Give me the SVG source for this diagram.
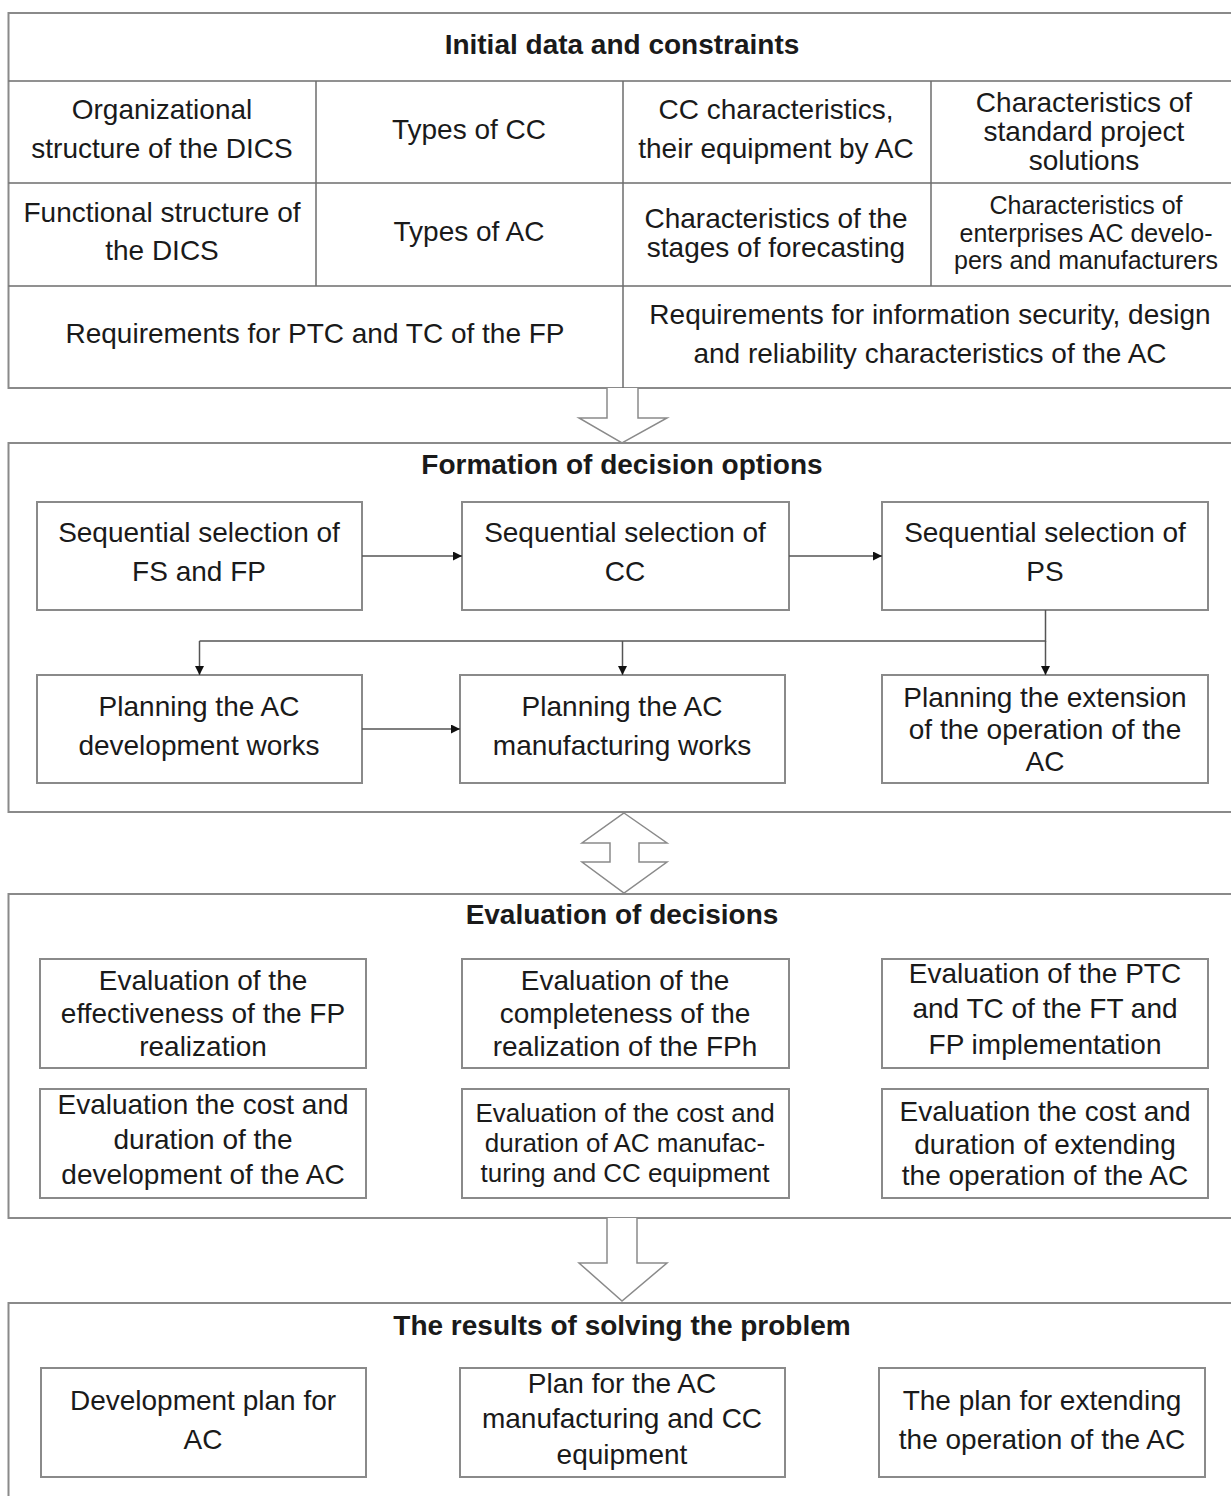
<svg xmlns="http://www.w3.org/2000/svg" width="1231" height="1496" viewBox="0 0 1231 1496">
<style>
text{font-family:"Liberation Sans",Arial,sans-serif;font-size:28px;fill:#1a1a1a;text-anchor:middle}
.t{font-weight:bold}
.s{font-size:26px}
.xs{font-size:25px}
.frame{fill:#fff;stroke:#8a8a8a;stroke-width:2}
.grid{fill:none;stroke:#6e6e6e;stroke-width:1.5}
.box{fill:#fff;stroke:#8a8a8a;stroke-width:2}
.hollow{fill:#fff;stroke:#8a8a8a;stroke-width:1.5;stroke-linejoin:miter}
.conn{fill:none;stroke:#555;stroke-width:1.5}
</style>
<defs>
<marker id="ah" viewBox="0 0 10 10" refX="10" refY="5" markerWidth="9" markerHeight="9" markerUnits="userSpaceOnUse" orient="auto">
<path d="M0,0L10,5L0,10z" fill="#111"/>
</marker>
</defs>
<rect width="1231" height="1496" fill="#fff"/>

<!-- Section 1: table -->
<g id="initial-data">
<rect class="frame" x="8.5" y="13" width="1232" height="375"/>
<path class="grid" d="M8.5,81H1240M8.5,183H1240M8.5,286H1240M316,81V286M623,81V388M931,81V286"/>
<text class="t" x="622" y="54">Initial data and constraints</text>
</g>
<g id="cell-org"><text x="162" y="119">Organizational</text><text x="162" y="158">structure of the DICS</text></g>
<g id="cell-types-cc"><text x="469" y="139">Types of CC</text></g>
<g id="cell-cc-char"><text x="776" y="119">CC characteristics,</text><text x="776" y="158">their equipment by AC</text></g>
<g id="cell-std"><text x="1084" y="112">Characteristics of</text><text x="1084" y="141">standard project</text><text x="1084" y="170">solutions</text></g>
<g id="cell-func"><text x="162" y="222">Functional structure of</text><text x="162" y="260">the DICS</text></g>
<g id="cell-types-ac"><text x="469" y="241">Types of AC</text></g>
<g id="cell-stages"><text x="776" y="228">Characteristics of the</text><text x="776" y="257">stages of forecasting</text></g>
<g id="cell-enterprises"><text class="xs" x="1086" y="214">Characteristics of</text><text class="xs" x="1086" y="241.5">enterprises AC develo-</text><text class="xs" x="1086" y="269">pers and manufacturers</text></g>
<g id="cell-req-ptc"><text x="315" y="343">Requirements for PTC and TC of the FP</text></g>
<g id="cell-req-sec"><text x="930" y="324">Requirements for information security, design</text><text x="930" y="363">and reliability characteristics of the AC</text></g>

<!-- Section 2 -->
<g id="formation">
<rect class="frame" x="8.5" y="443" width="1232" height="369"/>
<text class="t" x="622" y="474">Formation of decision options</text>
</g>
<g id="sel-fs"><rect class="box" x="37" y="502" width="325" height="108"/><text x="199" y="542">Sequential selection of</text><text x="199" y="581">FS and FP</text></g>
<g id="sel-cc"><rect class="box" x="462" y="502" width="327" height="108"/><text x="625" y="542">Sequential selection of</text><text x="625" y="581">CC</text></g>
<g id="sel-ps"><rect class="box" x="882" y="502" width="326" height="108"/><text x="1045" y="542">Sequential selection of</text><text x="1045" y="581">PS</text></g>
<g id="plan-dev"><rect class="box" x="37" y="675" width="325" height="108"/><text x="199" y="716">Planning the AC</text><text x="199" y="755">development works</text></g>
<g id="plan-man"><rect class="box" x="460" y="675" width="325" height="108"/><text x="622" y="716">Planning the AC</text><text x="622" y="755">manufacturing works</text></g>
<g id="plan-ext"><rect class="box" x="882" y="675" width="326" height="108"/><text x="1045" y="707">Planning the extension</text><text x="1045" y="739">of the operation of the</text><text x="1045" y="771">AC</text></g>

<!-- Section 3 -->
<g id="evaluation">
<rect class="frame" x="8.5" y="894" width="1232" height="324"/>
<text class="t" x="622" y="924">Evaluation of decisions</text>
</g>
<g id="ev-eff"><rect class="box" x="40" y="959" width="326" height="109"/><text x="203" y="990">Evaluation of the</text><text x="203" y="1023">effectiveness of the FP</text><text x="203" y="1056">realization</text></g>
<g id="ev-compl"><rect class="box" x="462" y="959" width="327" height="109"/><text x="625" y="990">Evaluation of the</text><text x="625" y="1023">completeness of the</text><text x="625" y="1056">realization of the FPh</text></g>
<g id="ev-ptc"><rect class="box" x="882" y="959" width="326" height="109"/><text x="1045" y="983">Evaluation of the PTC</text><text x="1045" y="1018">and TC of the FT and</text><text x="1045" y="1054">FP implementation</text></g>
<g id="ev-cost-dev"><rect class="box" x="40" y="1089" width="326" height="109"/><text x="203" y="1114">Evaluation the cost and</text><text x="203" y="1149">duration of the</text><text x="203" y="1184">development of the AC</text></g>
<g id="ev-cost-man"><rect class="box" x="462" y="1089" width="327" height="109"/><text class="s" x="625" y="1122">Evaluation of the cost and</text><text class="s" x="625" y="1152">duration of AC manufac-</text><text class="s" x="625" y="1182">turing and CC equipment</text></g>
<g id="ev-cost-ext"><rect class="box" x="882" y="1089" width="326" height="109"/><text x="1045" y="1121">Evaluation the cost and</text><text x="1045" y="1154">duration of extending</text><text x="1045" y="1185">the operation of the AC</text></g>

<!-- Section 4 -->
<g id="results">
<rect class="frame" x="8.5" y="1303" width="1232" height="220"/>
<text class="t" x="622" y="1335">The results of solving the problem</text>
</g>
<g id="res-dev"><rect class="box" x="41" y="1368" width="325" height="109"/><text x="203" y="1410">Development plan for</text><text x="203" y="1449">AC</text></g>
<g id="res-man"><rect class="box" x="460" y="1368" width="325" height="109"/><text x="622" y="1393">Plan for the AC</text><text x="622" y="1428">manufacturing and CC</text><text x="622" y="1464">equipment</text></g>
<g id="res-ext"><rect class="box" x="879" y="1368" width="326" height="109"/><text x="1042" y="1410">The plan for extending</text><text x="1042" y="1449">the operation of the AC</text></g>

<!-- Connectors -->
<g id="connectors">
<path class="hollow" d="M607,388V418H579L622,443L667,418H638V388"/>
<path class="hollow" d="M624,813L667,843H639V862H667L624,893L582,862H610V843H582Z"/>
<path class="hollow" d="M607,1218V1263H579L622,1301L667,1263H637V1218"/>
<path class="conn" d="M362,556H462" marker-end="url(#ah)"/>
<path class="conn" d="M789,556H882" marker-end="url(#ah)"/>
<path class="conn" d="M1045.5,610V641H199.5"/>
<path class="conn" d="M199.5,641V675" marker-end="url(#ah)"/>
<path class="conn" d="M622.5,641V675" marker-end="url(#ah)"/>
<path class="conn" d="M1045.5,641V675" marker-end="url(#ah)"/>
<path class="conn" d="M362,729H460" marker-end="url(#ah)"/>
</g>
</svg>
